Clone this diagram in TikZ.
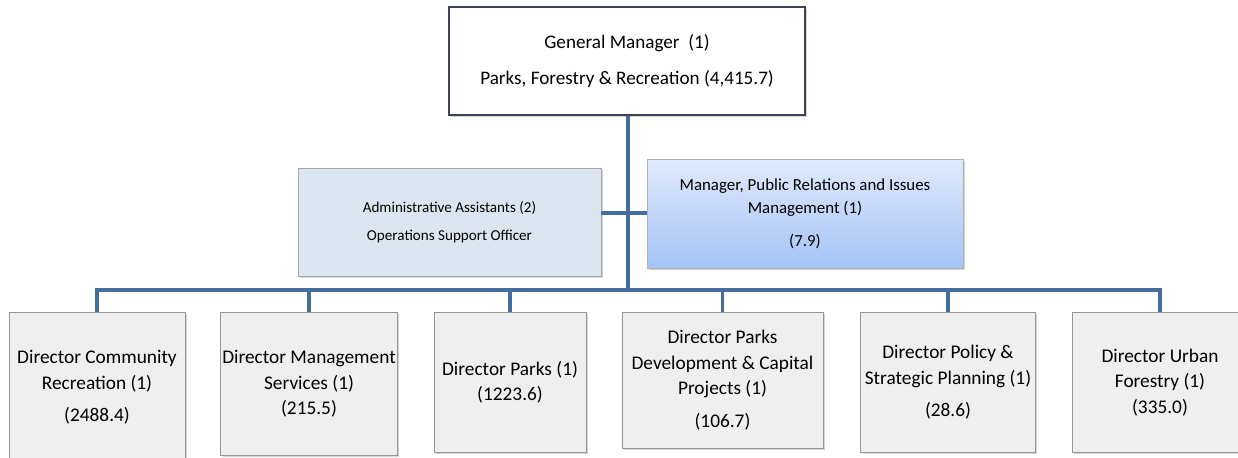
\documentclass[tikz,border=0pt]{standalone}
\usepackage{fontspec}
\setmainfont{Carlito}
\usepackage{tikz}
\usetikzlibrary{positioning,calc,shadows}
\definecolor{linkblue}{RGB}{68,108,156}
\definecolor{gmborder}{RGB}{58,68,84}
\definecolor{adminfill}{RGB}{220,230,240}
\definecolor{prtop}{RGB}{224,234,252}
\definecolor{prbottom}{RGB}{164,195,246}
\definecolor{dirfill}{RGB}{239,239,239}
\definecolor{dirborder}{RGB}{150,150,150}

\tikzset{
  conn/.style={draw=linkblue, line width=2.1pt},
  gmbox/.style={draw=gmborder, line width=1.1pt, fill=white, align=center,
    drop shadow={shadow xshift=.04cm, shadow yshift=-.04cm, opacity=.35},
    minimum width=7.12cm, minimum height=2.16cm, font=\fontsize{10.9}{20}\selectfont},
  staffbox/.style={draw=gray!70, fill=adminfill, align=center,
    drop shadow={shadow xshift=.04cm, shadow yshift=-.04cm, opacity=.35},
    font=\fontsize{8.6}{16}\selectfont},
  dirbox/.style={draw=dirborder, fill=dirfill, align=center, anchor=north,
    inner xsep=1pt,
    drop shadow={shadow xshift=.04cm, shadow yshift=-.04cm, opacity=.35},
    minimum width=3.52cm, font=\fontsize{11}{14.5}\selectfont}
}

\begin{document}
\begin{tikzpicture}[x=0.02cm, y=-0.02cm]
  \useasboundingbox (0,0) rectangle (1238,457);

  \node[gmbox] (gm) at (627,61) {General Manager~ (1)\\Parks, Forestry \& Recreation (4,415.7)};

  \node[staffbox, minimum width=6.06cm, minimum height=2.16cm] (admin) at (449.5,222)
    {Administrative Assistants (2)\\Operations Support Officer};
  \node[staffbox, draw=gray!60, top color=prtop, bottom color=prbottom,
    minimum width=6.32cm, minimum height=2.18cm, font=\fontsize{9.6}{13.5}\selectfont] (pr) at (805,213.5)
    {Manager, Public Relations and Issues\\Management (1)\\[5pt](7.9)};

  \node[dirbox, minimum height=3.0cm] (d1) at (97,312)
    {Director Community\\Recreation (1)\\[4pt](2488.4)};
  \node[dirbox, minimum height=2.86cm] (d2) at (309,312)
    {Director Management\\Services (1)\\(215.5)};
  \node[dirbox, minimum width=3.04cm, minimum height=2.8cm] (d3) at (510,312)
    {Director Parks (1)\\(1223.6)};
  \node[dirbox, minimum width=4.02cm, minimum height=2.72cm] (d4) at (722.5,312)
    {Director Parks\\Development \& Capital\\Projects (1)\\[4pt](106.7)};
  \node[dirbox, minimum width=3.5cm, minimum height=2.8cm] (d5) at (948,312)
    {Director Policy \&\\Strategic Planning (1)\\[4pt](28.6)};
  \node[dirbox, minimum height=2.8cm] (d6) at (1160,312)
    {Director Urban\\Forestry (1)\\(335.0)};

  \coordinate (bus) at (628,290);
  \coordinate (staff) at (628,213);

  \draw[conn] (gm.south -| bus) -- (bus);
  \draw[conn] (staff) -- (staff -| admin.east);
  \draw[conn] (staff) -- (staff -| pr.west);
  \foreach \d in {d1,d2,d3,d4,d5,d6}
    \draw[conn] (bus) -| (\d.north);
\end{tikzpicture}
\end{document}
